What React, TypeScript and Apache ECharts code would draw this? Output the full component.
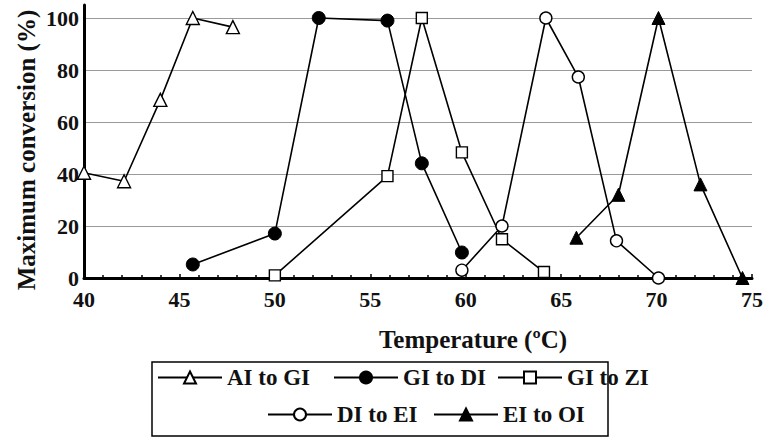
import React, { useEffect, useRef } from "react";
import * as echarts from "echarts";

const seriesNames = ["AI to GI", "GI to DI", "GI to ZI", "DI to EI", "EI to OI"];

const aiToGiX = [40, 42.1, 44, 45.7, 47.8];
const aiToGiY = [40.5, 37.2, 68.5, 100, 96.5];

const giToDiX = [45.7, 50, 52.3, 55.9, 57.7, 59.8];
const giToDiY = [5.2, 17.1, 100, 99, 44.1, 9.8];

const giToZiX = [50, 55.9, 57.7, 59.8, 61.9, 64.1];
const giToZiY = [1, 39.2, 100, 48.3, 14.9, 2.3];

const diToEiX = [59.8, 61.9, 64.2, 65.9, 67.9, 70.1];
const diToEiY = [3, 20, 100, 77.3, 14.3, 0];

const eiToOiX = [65.8, 68, 70.1, 72.3, 74.5];
const eiToOiY = [15.5, 32, 100, 36, 0];

const xTicks = [40, 45, 50, 55, 60, 65, 70, 75];
const yTicks = [0, 20, 40, 60, 80, 100];

const xTitle = "Temperature (\u00baC)";
const yTitle = "Maximum conversion (%)";

const FONT = "serif";

function pairs(xs: number[], ys: number[]) {
  return xs.map((x, i) => [x, ys[i]]);
}

export default function App() {
  const ref = useRef<HTMLDivElement>(null);
  useEffect(() => {
    if (!ref.current) return;
    const chart = echarts.init(ref.current, null, { renderer: "svg" });
    const lineStyle = { color: "#000", width: 1.6 };
    const open = { color: "#fff", borderColor: "#000", borderWidth: 1.4 };
    const filled = { color: "#000", borderColor: "#000", borderWidth: 1 };
    const defs = [
      { name: seriesNames[0], data: pairs(aiToGiX, aiToGiY), symbol: "triangle", size: 13, item: open },
      { name: seriesNames[1], data: pairs(giToDiX, giToDiY), symbol: "circle", size: 13, item: filled },
      { name: seriesNames[2], data: pairs(giToZiX, giToZiY), symbol: "rect", size: 11, item: open },
      { name: seriesNames[3], data: pairs(diToEiX, diToEiY), symbol: "circle", size: 12, item: open },
      { name: seriesNames[4], data: pairs(eiToOiX, eiToOiY), symbol: "triangle", size: 13, item: filled },
    ];
    const legendPos = [
      { left: 157, top: 366 },
      { left: 333, top: 366 },
      { left: 497, top: 366 },
      { left: 267, top: 403 },
      { left: 433, top: 403 },
    ];
    const txt = { fontFamily: FONT, fontWeight: "bold", color: "#111" };
    chart.setOption({
      animation: false,
      backgroundColor: "#fff",
      textStyle: { fontFamily: FONT },
      grid: { left: 84, right: 18, top: 5, bottom: 161, containLabel: false },
      xAxis: {
        type: "value",
        min: xTicks[0],
        max: xTicks[xTicks.length - 1],
        interval: 5,
        axisLine: { show: true, onZero: false, lineStyle: { color: "#000", width: 3 } },
        axisTick: { show: true, inside: true, length: 4, lineStyle: { color: "#000", width: 1.5 } },
        minorTick: { show: true, splitNumber: 5, length: 3, lineStyle: { color: "#000", width: 1.5 } },
        splitLine: { show: false },
        axisLabel: {
          margin: 10,
          ...txt,
          fontSize: 22,
          formatter: (v: number) => (xTicks.includes(v) ? String(v) : ""),
        },
      },
      yAxis: {
        type: "value",
        min: 0,
        max: 105,
        interval: 20,
        axisLine: { show: true, lineStyle: { color: "#000", width: 3 } },
        axisTick: { show: false },
        splitLine: { show: true, showMaxLine: false, lineStyle: { color: "#9a9a9a", width: 1.2 } },
        axisLabel: {
          margin: 5,
          ...txt,
          fontSize: 22,
          formatter: (v: number) => (yTicks.includes(v) ? String(v) : ""),
        },
      },
      legend: defs.map((d, i) => ({
        data: [d.name],
        left: legendPos[i].left,
        top: legendPos[i].top,
        itemWidth: 64,
        itemHeight: 15,
        itemGap: 0,
        padding: 0,
        textStyle: { ...txt, fontSize: 23 },
      })),
      graphic: [
        {
          type: "rect",
          shape: { x: 152, y: 362, width: 456, height: 74 },
          style: { fill: "none", stroke: "#000", lineWidth: 1.5 },
          silent: true,
        },
        {
          type: "text",
          x: 473,
          y: 339,
          style: {
            text: xTitle,
            fontFamily: FONT,
            fontWeight: "bold",
            fill: "#111",
            fontSize: 25,
            align: "center",
            verticalAlign: "middle",
          },
        },
        {
          type: "text",
          x: 26,
          y: 150,
          rotation: Math.PI / 2,
          style: {
            text: yTitle,
            fontFamily: FONT,
            fontWeight: "bold",
            fill: "#111",
            fontSize: 25,
            align: "center",
            verticalAlign: "middle",
          },
        },
      ],
      series: defs.map((d) => ({
        name: d.name,
        type: "line",
        data: d.data,
        symbol: d.symbol,
        symbolSize: d.size,
        showSymbol: true,
        lineStyle,
        itemStyle: d.item,
        emphasis: { disabled: true },
        z: 3,
      })),
    });
    return () => chart.dispose();
  }, []);
  return (
    <div
      ref={ref}
      style={{ position: "fixed", left: 0, top: 0, width: 770, height: 439 }}
    />
  );
}
